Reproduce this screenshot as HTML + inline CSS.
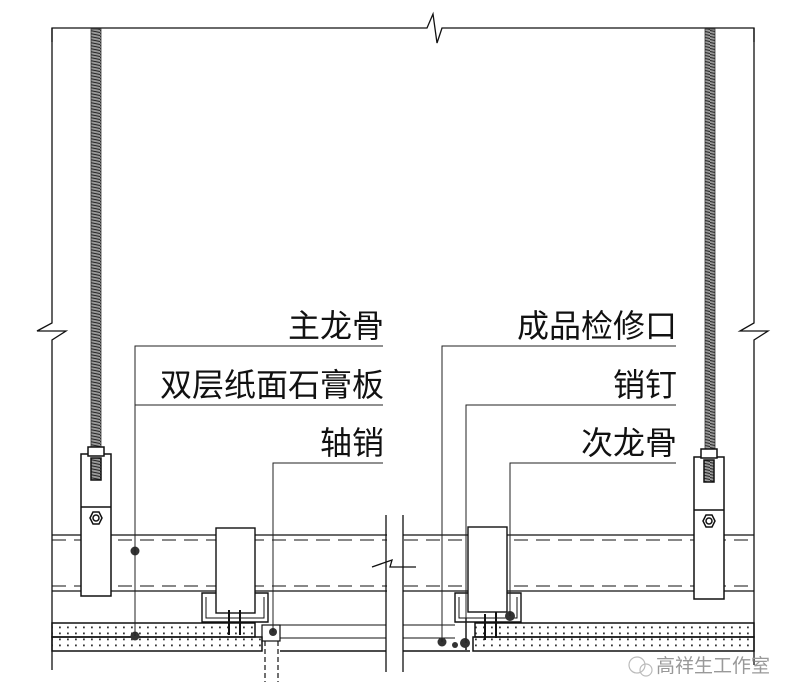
<!DOCTYPE html>
<html><head><meta charset="utf-8"><style>
html,body{margin:0;padding:0;background:#fff;}
svg{display:block;}
text{font-family:"Liberation Sans","Noto Sans CJK SC",sans-serif;}
</style></head><body>
<svg width="799" height="700" viewBox="0 0 799 700" xmlns="http://www.w3.org/2000/svg">
<defs>
<pattern id="thr" width="10" height="3" patternUnits="userSpaceOnUse">
<rect width="10" height="3" fill="#999"/><line x1="0" y1="0.5" x2="10" y2="2.5" stroke="#222" stroke-width="0.9"/>
</pattern>
<pattern id="dots" width="8" height="6" patternUnits="userSpaceOnUse">
<rect x="3" y="2.5" width="1.8" height="1.8" fill="#333"/>
</pattern>
</defs>
<g fill="none" stroke="#111" stroke-width="1.3">
<polyline points="52,42 52,28 427,28 433,14 437,43 442,28 754,28 754,42"/>
<polyline points="52,28 52,323 37,331 66,331 52,340 52,670"/>
<polyline points="754,28 754,323 740,331 768,331 754,340 754,665"/>
</g>
<rect x="91" y="29" width="10" height="420" fill="url(#thr)" stroke="#333" stroke-width="0.8"/>
<rect x="705" y="29" width="10" height="420" fill="url(#thr)" stroke="#333" stroke-width="0.8"/>
<g fill="none" stroke="#111" stroke-width="1.3">
<line x1="52" y1="535" x2="754" y2="535"/>
<line x1="52" y1="591" x2="754" y2="591"/>
<line x1="52" y1="540" x2="754" y2="540" stroke-dasharray="14,8" stroke-width="0.9"/>
<line x1="52" y1="586" x2="754" y2="586" stroke-dasharray="14,8" stroke-width="0.9"/>
</g>
<g stroke="#111" stroke-width="1.5" fill="#fff">
<rect x="81" y="454" width="30" height="142"/>
<line x1="81" y1="507" x2="111" y2="507"/>
<rect x="88" y="447" width="16" height="9"/>
<rect x="91" y="458" width="10" height="22" fill="url(#thr)"/>
<polygon points="90,518 93,512 99,512 102,518 99,524 93,524" fill="#fff"/>
<circle cx="96" cy="518" r="3" fill="#fff"/>
<rect x="694" y="457" width="30" height="142"/>
<line x1="694" y1="510" x2="724" y2="510"/>
<rect x="701" y="449" width="16" height="9"/>
<rect x="704" y="460" width="10" height="22" fill="url(#thr)"/>
<polygon points="703,521 706,515 712,515 715,521 712,527 706,527" fill="#fff"/>
<circle cx="709" cy="521" r="3" fill="#fff"/>
</g>
<rect x="52" y="623" width="203" height="14" fill="url(#dots)" stroke="#111" stroke-width="1.5"/>
<rect x="52" y="637" width="210" height="14" fill="url(#dots)" stroke="#111" stroke-width="1.5"/>
<rect x="475" y="623" width="279" height="14" fill="url(#dots)" stroke="#111" stroke-width="1.5"/>
<rect x="473" y="637" width="281" height="14" fill="url(#dots)" stroke="#111" stroke-width="1.5"/>
<g stroke="#111" stroke-width="1.4" fill="#fff">
<path d="M202,593 H268 V622 H202 Z" fill="none"/>
<path d="M206,597 V618 H264 V597" fill="none" stroke-width="1"/>
<rect x="216" y="528" width="39" height="85"/>
<path d="M455,593 H521 V622 H455 Z" fill="none"/>
<path d="M459,597 V618 H517 V597" fill="none" stroke-width="1"/>
<rect x="468" y="527" width="39" height="85"/>
</g>
<g stroke="#111" fill="none" stroke-width="1.2">
<rect x="262" y="625" width="18" height="16"/>
<line x1="265" y1="641" x2="265" y2="682" stroke-dasharray="5,3"/>
<line x1="278" y1="641" x2="278" y2="682" stroke-dasharray="5,3"/>
<line x1="280" y1="625" x2="386" y2="625" stroke-width="0.9"/>
<line x1="280" y1="638" x2="386" y2="638" stroke-width="0.9"/>
<line x1="280" y1="651" x2="386" y2="651" stroke-width="1.5"/>
<line x1="403" y1="625" x2="455" y2="625" stroke-width="0.9"/>
<line x1="403" y1="638" x2="455" y2="638" stroke-width="0.9"/>
<line x1="403" y1="651" x2="470" y2="651" stroke-width="1.5"/>
<line x1="229" y1="610" x2="229" y2="635" stroke-width="2"/>
<line x1="240" y1="610" x2="240" y2="635" stroke-width="2"/>
<line x1="485" y1="614" x2="485" y2="640" stroke-width="2"/>
<line x1="496" y1="612" x2="496" y2="638" stroke-width="2"/>
<line x1="466" y1="618" x2="466" y2="650" stroke-width="1.5"/>
</g>
<rect x="387" y="515" width="16" height="158" fill="#fff"/>
<g stroke="#111" stroke-width="1.3" fill="none">
<line x1="386" y1="515" x2="386" y2="672"/>
<line x1="403" y1="515" x2="403" y2="672"/>
<polyline points="372,567 392,560 390,567 416,567" />
</g>
<g fill="#333">
<circle cx="135" cy="551" r="4.5"/><circle cx="135" cy="636" r="4.5"/>
<circle cx="273" cy="632" r="4"/>
<circle cx="442" cy="642" r="4.5"/><circle cx="465" cy="643" r="5"/>
<circle cx="455" cy="645" r="3"/>
<circle cx="510" cy="616" r="5"/>
</g>
<g stroke="#222" stroke-width="1" fill="none">
<polyline points="383,346 135,346 135,636"/>
<line x1="135" y1="405" x2="383" y2="405"/>
<polyline points="383,463 273,463 273,632"/>
<polyline points="676,346 442,346 442,642"/>
<polyline points="676,405 466,405 466,643"/>
<polyline points="676,463 510,463 510,616"/>
</g>
<g font-size="32" fill="#111" text-anchor="end">
<text x="384" y="337">主龙骨</text>
<text x="384" y="396">双层纸面石膏板</text>
<text x="384" y="454">轴销</text>
<text x="677" y="337">成品检修口</text>
<text x="677" y="396">销钉</text>
<text x="677" y="454">次龙骨</text>
</g>
<text x="656" y="672" font-size="19" fill="#999">高祥生工作室</text>
<circle cx="637" cy="665" r="8" fill="none" stroke="#bbb" stroke-width="1.2"/>
<circle cx="646" cy="670" r="6" fill="none" stroke="#bbb" stroke-width="1.2"/>
</svg>
</body></html>
